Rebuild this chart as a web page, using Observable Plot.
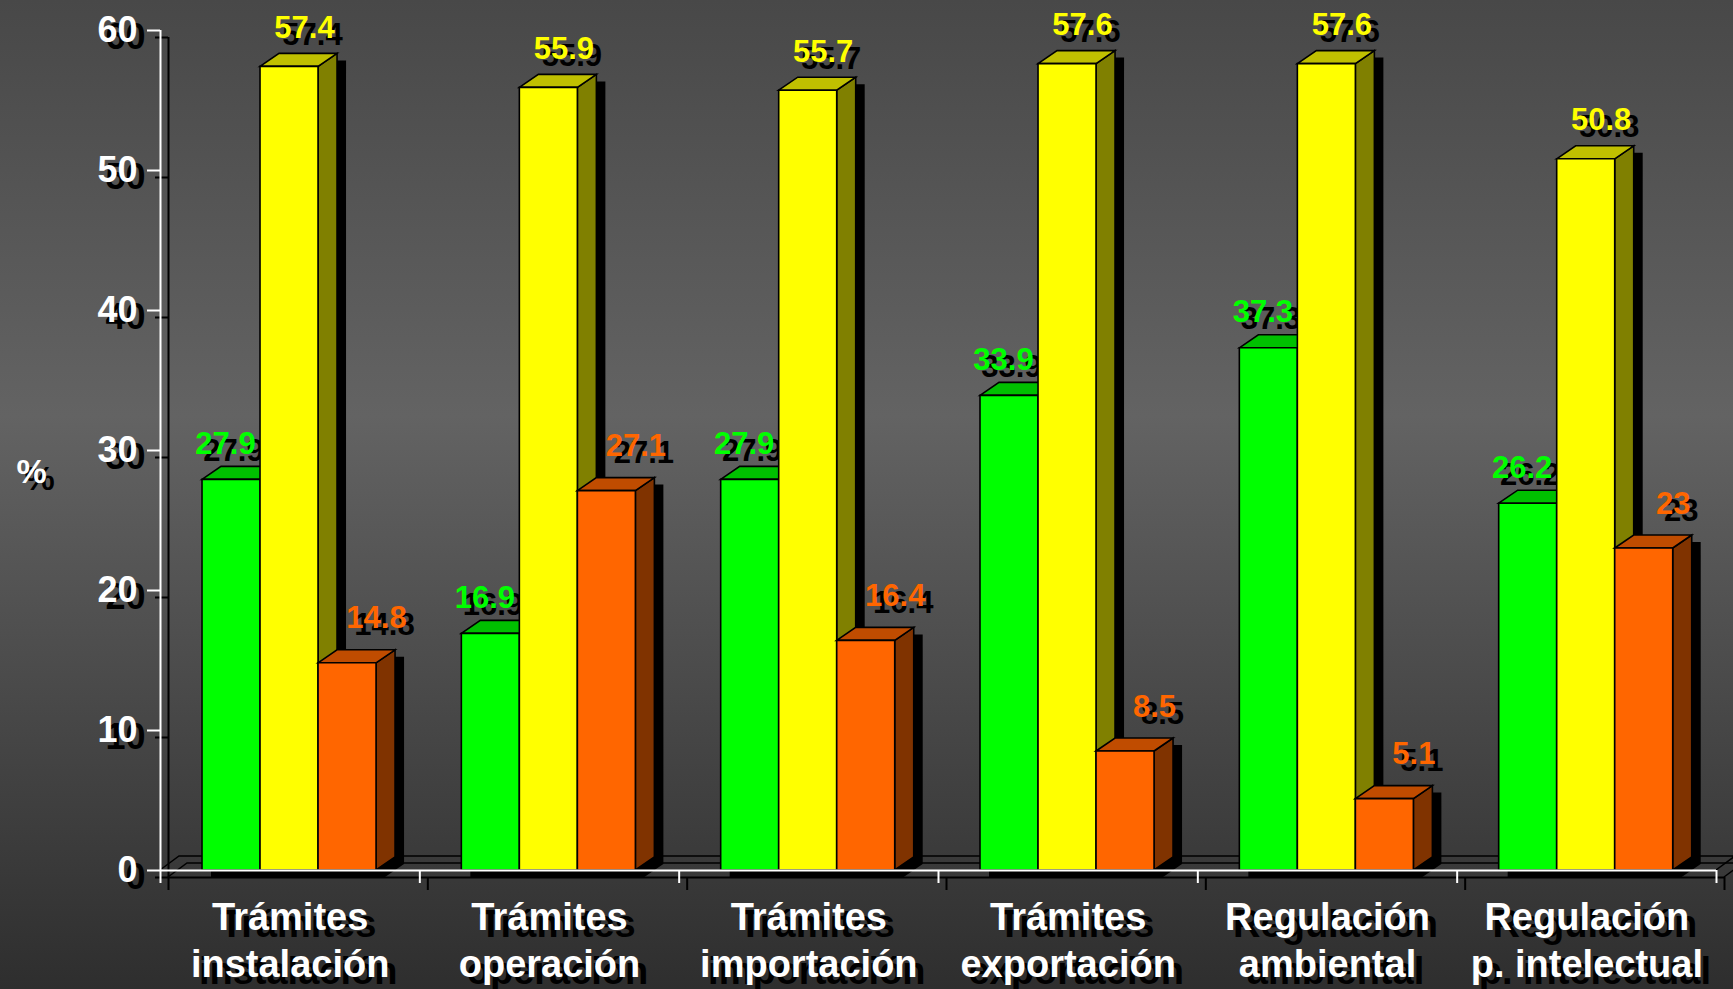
<!DOCTYPE html>
<html>
<head>
<meta charset="utf-8">
<script src="https://cdn.jsdelivr.net/npm/d3@7"></script>
<script src="https://cdn.jsdelivr.net/npm/@observablehq/plot@0.6"></script>
<style>
html, body { margin: 0; padding: 0; width: 1733px; height: 989px; overflow: hidden;
  background: linear-gradient(to bottom, #484848 0%, #636363 42%, #2e2e2e 100%); }
#chart svg { display: block; }
</style>
</head>
<body>
<div id="chart"></div>
<script>
// ---- data ----
const categories = [
  "Trámites\ninstalación",
  "Trámites\noperación",
  "Trámites\nimportación",
  "Trámites\nexportación",
  "Regulación\nambiental",
  "Regulación\np. intelectual"
];
const seriesNames = ["Verde", "Amarillo", "Naranja"];
const greenValues  = [27.9, 16.9, 27.9, 33.9, 37.3, 26.2];
const yellowValues = [57.4, 55.9, 55.7, 57.6, 57.6, 50.8];
const orangeValues = [14.8, 27.1, 16.4, 8.5, 5.1, 23];
const yTicks = [0, 10, 20, 30, 40, 50, 60];
const yLabel = "%";

// ---- derived table ----
const seriesValues = [greenValues, yellowValues, orangeValues];
const rows = [];
categories.forEach((cat, i) => seriesValues.forEach((vals, s) =>
  rows.push({cat, i, s, series: seriesNames[s], value: vals[i]})));
const bandEdges = d3.range(categories.length + 1);

// ---- styles ----
const faces = [
  {front: "#00ff00", top: "#00c000", side: "#008000"},
  {front: "#ffff00", top: "#c0c000", side: "#808000"},
  {front: "#ff6600", top: "#c04c00", side: "#803300"}
];
const labelColors = ["#00ff00", "#ffff00", "#ff6600"];
const bandStart = 0.162, barW = 0.2237;      // fractions of a category band
const depthX = 19, depthY = 13;              // 3D depth in px
const barShX = 9, barShY = 7;                // bar shadow offset
const shX = 8, shY = 7;                      // text / axis shadow offset
const labelDx = [-6, 15, 29], labelDy = [-26, -29, -35];
const font = "'Liberation Sans', Arial, Helvetica, sans-serif";

const barLeft = d => d.i + bandStart + d.s * barW;
const barCenter = d => barLeft(d) + barW / 2;

const pts = p => "M" + p.map(q => q[0] + "," + q[1]).join("L") + "Z";

function floorMark(index, {x, y}) {
  const g = d3.create("svg:g").attr("fill", "none").attr("stroke", "black").attr("stroke-width", 1.5);
  const y0 = y(0), xa = x(0), xb = x(categories.length);
  for (const [ox, oy] of [[shX, shY], [0, 0]]) {
    g.append("path").attr("d",
      `M${xa + ox},${y0 + oy}L${xa + depthX + ox},${y0 - depthY - 1 + oy}L${xb + depthX + ox},${y0 - depthY - 1 + oy}L${xb + ox},${y0 + oy}`);
  }
  return g.node();
}

function barsMark(s) {
  return (index, {x, y}) => {
    const g = d3.create("svg:g");
    const y0 = y(0);
    const sub = rows.filter(r => r.s === s);
    for (const d of sub) {
      const xa = x(barLeft(d)), xb = x(barLeft(d) + barW), yt = y(d.value);
      const outline = [[xa, y0], [xa, yt], [xa + depthX, yt - depthY], [xb + depthX, yt - depthY], [xb + depthX, y0 - depthY], [xb, y0]];
      g.append("path").attr("d", pts(outline.map(p => [p[0] + barShX, p[1] + barShY]))).attr("fill", "black");
    }
    for (const d of sub) {
      const xa = x(barLeft(d)), xb = x(barLeft(d) + barW), yt = y(d.value);
      const c = faces[s];
      const common = el => el.attr("stroke", "black").attr("stroke-width", 1.6).attr("stroke-linejoin", "miter");
      common(g.append("path").attr("d", pts([[xb, yt], [xb + depthX, yt - depthY], [xb + depthX, y0 - depthY], [xb, y0]])).attr("fill", c.side));
      common(g.append("path").attr("d", pts([[xa, yt], [xa + depthX, yt - depthY], [xb + depthX, yt - depthY], [xb, yt]])).attr("fill", c.top));
      common(g.append("path").attr("d", pts([[xa, y0], [xa, yt], [xb, yt], [xb, y0]])).attr("fill", c.front));
    }
    return g.node();
  };
}

function valueLabels(s) {
  const sub = rows.filter(r => r.s === s);
  const base = {x: barCenter, y: "value", text: d => String(d.value), lineAnchor: "bottom",
    textAnchor: "middle", fontSize: 31, fontWeight: "bold"};
  return [
    Plot.text(sub, {...base, fill: "black", dx: labelDx[s] + shX, dy: labelDy[s] + shY}),
    Plot.text(sub, {...base, fill: labelColors[s], dx: labelDx[s], dy: labelDy[s]})
  ];
}

const catText = {x: (d, i) => i + 0.5, y: d => 0, text: d => d, lineAnchor: "top", lineHeight: 1.237,
  textAnchor: "middle", fontSize: 38, fontWeight: "bold"};
const yAxisOpts = {tickSize: 13, tickPadding: 10, fontSize: 36, fontWeight: "bold", strokeWidth: 2, label: null};
const xTickOpts = {tickSize: 13, tickFormat: () => "", strokeWidth: 2, label: null};

const chart = Plot.plot({
  width: 1733, height: 989,
  marginLeft: 160, marginRight: 17, marginTop: 30, marginBottom: 119,
  x: {type: "linear", domain: [0, categories.length]},
  y: {domain: [0, 60]},
  style: {background: "transparent", fontFamily: font, overflow: "visible"},
  marks: [
    floorMark,
    // axis shadows
    Plot.ruleX([0], {y1: 0, y2: 60, stroke: "black", strokeWidth: 2, dx: shX, dy: shY}),
    Plot.ruleY([0], {x1: 0, x2: categories.length, stroke: "black", strokeWidth: 2, dx: shX, dy: shY}),
    Plot.axisY(yTicks, {...yAxisOpts, color: "black", dx: shX, dy: shY}),
    Plot.axisX(bandEdges, {...xTickOpts, color: "black", dx: shX, dy: shY}),
    // bars and labels, series by series
    barsMark(0), ...valueLabels(0),
    barsMark(1), ...valueLabels(1),
    barsMark(2), ...valueLabels(2),
    // white axes
    Plot.ruleX([0], {y1: 0, y2: 60, stroke: "white", strokeWidth: 2}),
    Plot.ruleY([0], {x1: 0, x2: categories.length, stroke: "white", strokeWidth: 2}),
    Plot.axisY(yTicks, {...yAxisOpts, color: "white"}),
    Plot.axisX(bandEdges, {...xTickOpts, color: "white"}),
    // category labels
    Plot.text(categories, {...catText, fill: "black", dx: shX, dy: 26 + shY}),
    Plot.text(categories, {...catText, fill: "white", dy: 26}),
    // y label
    Plot.text([yLabel], {frameAnchor: "left", dx: -129 + shX, dy: 22 + shY, text: d => d, fontSize: 34, fontWeight: "bold", fill: "black", textAnchor: "middle"}),
    Plot.text([yLabel], {frameAnchor: "left", dx: -129, dy: 22, text: d => d, fontSize: 34, fontWeight: "bold", fill: "white", textAnchor: "middle"})
  ]
});
document.getElementById("chart").appendChild(chart);
</script>
</body>
</html>
